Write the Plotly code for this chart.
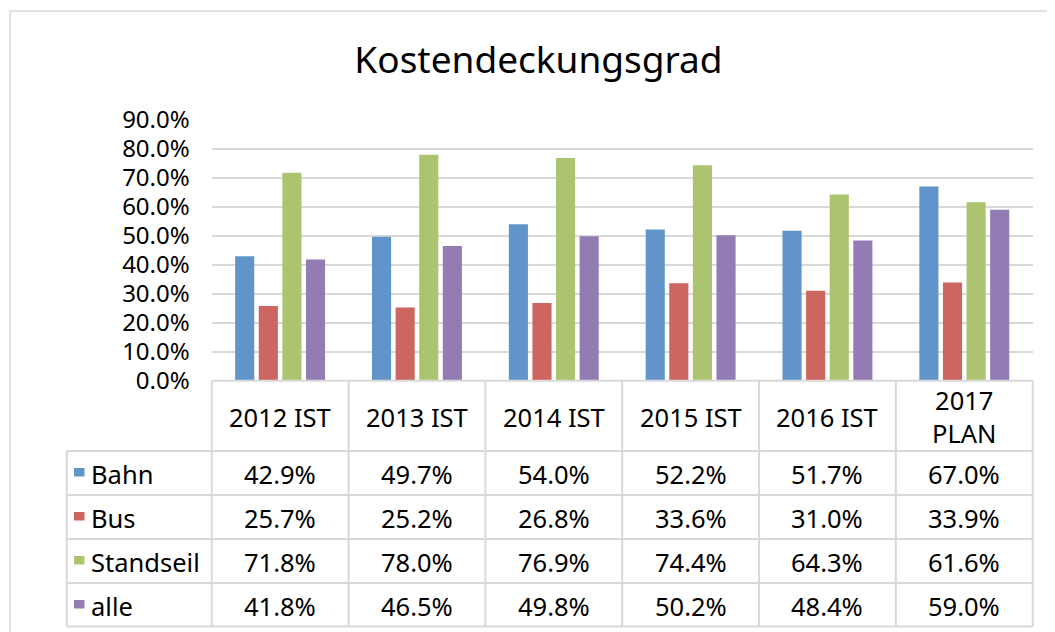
import plotly.graph_objects as go

# ---- data ----
categories = ["2012 IST", "2013 IST", "2014 IST", "2015 IST", "2016 IST", "2017 PLAN"]
header_labels = ["2012 IST", "2013 IST", "2014 IST", "2015 IST", "2016 IST", "2017<br>PLAN"]
series_names = ["Bahn", "Bus", "Standseil", "alle"]
bahn = [42.9, 49.7, 54.0, 52.2, 51.7, 67.0]
bus = [25.7, 25.2, 26.8, 33.6, 31.0, 33.9]
standseil = [71.8, 78.0, 76.9, 74.4, 64.3, 61.6]
alle = [41.8, 46.5, 49.8, 50.2, 48.4, 59.0]
y_ticks = [0, 10, 20, 30, 40, 50, 60, 70, 80, 90]
y_tick_labels = [f"{v:.1f}%" for v in y_ticks]

series_values = [bahn, bus, standseil, alle]
colors = ["#6194C8", "#CD6660", "#ACC46F", "#937CB4"]

# figure sits at (8, 8) in the page because of the default body margin
OFF = 8
W, H = 1055 - OFF, 632 - OFF
def px(x):
    return (x - OFF) / W
def py(y):
    return 1 - (y - OFF) / H

FONT = "Noto Sans"
GRID = "#D9D9D9"
FS = 25.5
TICK_FS = 24

# layout geometry (screen pixels)
X0, X1 = 211.7, 1032.7          # plot area / table value columns
TL = 66.7                       # table left edge (legend column)
Y_TOP = 380.7                   # 0 % line = table top
HEAD_BOT = 451.0
ROW_H = 44.0
Y_BOT = HEAD_BOT + ROW_H * len(series_names) - 0.5
n = len(categories)
col_w = (X1 - X0) / n

fig = go.Figure()
for name, vals, col in zip(series_names, series_values, colors):
    fig.add_trace(go.Bar(
        x=categories, y=vals, name=name,
        marker=dict(color=col, line=dict(width=0)),
        showlegend=False,
    ))

shapes = []
line_style = dict(color=GRID, width=2)
# outer chart border
shapes.append(dict(type="rect", xref="paper", yref="paper",
                   x0=px(10), y0=-0.05, x1=1.05, y1=py(11),
                   line=dict(color=GRID, width=1.5), layer="below"))
# table horizontal lines
shapes.append(dict(type="line", xref="paper", yref="paper",
                   x0=px(X0), x1=px(X1), y0=py(Y_TOP), y1=py(Y_TOP), line=line_style))
for r in range(len(series_names) + 1):
    yy = HEAD_BOT + ROW_H * r if r < len(series_names) else Y_BOT
    shapes.append(dict(type="line", xref="paper", yref="paper",
                       x0=px(TL), x1=px(X1), y0=py(yy), y1=py(yy), line=line_style))
# table vertical lines
shapes.append(dict(type="line", xref="paper", yref="paper",
                   x0=px(TL), x1=px(TL), y0=py(HEAD_BOT), y1=py(Y_BOT), line=line_style))
for k in range(n + 1):
    xx = X0 + k * col_w
    shapes.append(dict(type="line", xref="paper", yref="paper",
                       x0=px(xx), x1=px(xx), y0=py(Y_TOP), y1=py(Y_BOT), line=line_style))

annotations = []
# header row (category labels)
for cat, lab in zip(categories, header_labels):
    annotations.append(dict(x=cat, xref="x", y=py((Y_TOP + HEAD_BOT) / 2 + 1), yref="paper",
                            text=lab, showarrow=False, xanchor="center", yanchor="middle",
                            font=dict(family=FONT, size=FS, color="black")))
# data rows
for r, (name, vals, col) in enumerate(zip(series_names, series_values, colors)):
    top = HEAD_BOT + ROW_H * r
    yc = top + ROW_H / 2 + 1
    # legend key
    shapes.append(dict(type="rect", xref="paper", yref="paper",
                       x0=px(74), x1=px(84.5), y0=py(top + 25.5), y1=py(top + 17),
                       fillcolor=col, line=dict(width=0)))
    annotations.append(dict(x=px(89), xref="paper", y=py(yc), yref="paper",
                            text=name, showarrow=False, xanchor="left", yanchor="middle",
                            font=dict(family=FONT, size=FS, color="black")))
    for cat, v in zip(categories, vals):
        annotations.append(dict(x=cat, xref="x", y=py(yc), yref="paper",
                                text=f"{v:.1f}%", showarrow=False,
                                xanchor="center", yanchor="middle",
                                font=dict(family=FONT, size=FS, color="black")))

fig.update_layout(
    width=W, height=H,
    margin=dict(l=0, r=0, t=0, b=0, autoexpand=False),
    paper_bgcolor="white", plot_bgcolor="white",
    barmode="group", bargap=0.31, bargroupgap=0.19,
    title=dict(text="Kostendeckungsgrad", x=px(538.5), xanchor="center",
               y=py(60), yanchor="middle",
               font=dict(family=FONT, size=37, color="black")),
    xaxis=dict(domain=[px(X0), px(X1)], range=[-0.5, n - 0.5],
               showticklabels=False, automargin=False,
               showgrid=False, zeroline=False, showline=False, ticks="",
               categoryorder="array", categoryarray=categories),
    yaxis=dict(domain=[py(380.5), py(120)], range=[0, 90], automargin=False,
               tickvals=y_ticks, ticktext=y_tick_labels,
               showgrid=True, gridcolor=GRID, gridwidth=2,
               zeroline=False, showline=False, ticks="",
               ticklabelstandoff=21,
               tickfont=dict(family=FONT, size=TICK_FS, color="black")),
    shapes=shapes,
    annotations=annotations,
    font=dict(family=FONT),
    hovermode="closest",
)

fig.write_html("out.html")
